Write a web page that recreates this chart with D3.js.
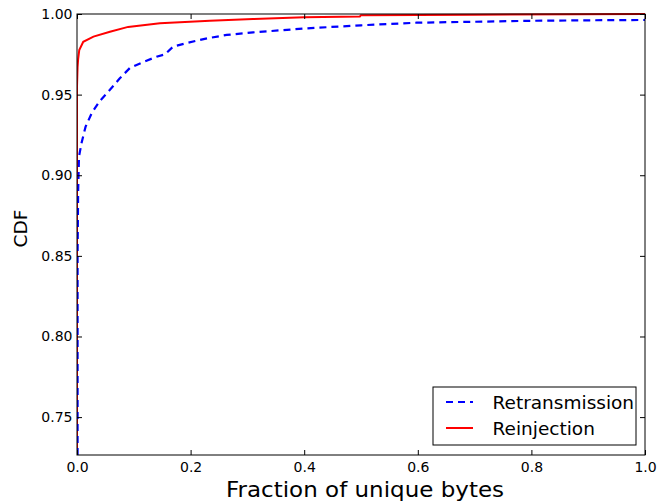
<!DOCTYPE html>
<html><head><meta charset="utf-8">
<script src="https://cdn.jsdelivr.net/npm/d3@7"></script>
<style>body{margin:0;background:#fff;} text{font-family:"DejaVu Sans",sans-serif;}</style>
</head><body><svg id="c" width="660" height="501"></svg>
<script>
const retransX = [0.001,0.001,0.002,0.0035,0.008,0.015,0.026,0.04,0.058,0.075,0.093,0.115,0.14,0.155,0.169,0.193,0.23,0.2635,0.31,0.4,0.5,0.598,0.7,0.803,0.9,1.0];
const retransY = [0.7265,0.85,0.89,0.9115,0.92,0.93,0.9386,0.946,0.953,0.960,0.9665,0.970,0.9735,0.975,0.9797,0.982,0.985,0.987,0.9886,0.991,0.993,0.9946,0.9952,0.9958,0.9961,0.9963];
const reinjX = [0,0,0.001,0.002,0.004,0.011,0.029,0.058,0.09,0.146,0.234,0.31,0.4,0.498,0.5,0.7,1.0];
const reinjY = [0.7265,0.955,0.967,0.972,0.9777,0.9828,0.986,0.989,0.992,0.9942,0.9958,0.9969,0.998,0.9985,0.9993,0.9996,1.0];
const xTicks = [0,0.2,0.4,0.6,0.8,1.0];
const yTicks = [0.75,0.80,0.85,0.90,0.95,1.00];
const seriesNames = ["Retransmission","Reinjection"];

const L=77,R=645,T=14,B=455;
const svg=d3.select("#c");
const x=d3.scaleLinear().domain([0,1]).range([L,R]);
const y=d3.scaleLinear().domain([0.7265,1.0]).range([B,T]);

svg.append("defs").append("clipPath").attr("id","clip").append("rect")
  .attr("x",L).attr("y",T-1).attr("width",R-L).attr("height",B-T+1);

const line=d3.line().x(d=>x(d[0])).y(d=>y(d[1]));
const g=svg.append("g").attr("clip-path","url(#clip)");
g.append("path").datum(reinjX.map((v,i)=>[v,reinjY[i]]))
  .attr("d",line).attr("fill","none").attr("stroke","#ff0000").attr("stroke-width",2);
g.append("path").datum(retransX.map((v,i)=>[v,retransY[i]]))
  .attr("d",line).attr("fill","none").attr("stroke","#0000ff").attr("stroke-width",2.2)
  .attr("stroke-dasharray","7,5");

// axes (inward ticks)
const tl=5;
const xb=d3.axisBottom(x).tickValues(xTicks).tickFormat(d3.format(".1f")).tickSizeInner(-tl).tickSizeOuter(0).tickPadding(7);
const xt=d3.axisTop(x).tickValues(xTicks).tickFormat("").tickSizeInner(-tl).tickSizeOuter(0);
const yl=d3.axisLeft(y).tickValues(yTicks).tickFormat(d3.format(".2f")).tickSizeInner(-tl).tickSizeOuter(0).tickPadding(4.5);
const yr=d3.axisRight(y).tickValues(yTicks).tickFormat("").tickSizeInner(-tl).tickSizeOuter(0);
function style(s){s.select(".domain").remove();s.selectAll("line").attr("stroke","#000");s.selectAll("text").attr("font-size",14).attr("fill","#000").style("font-family","DejaVu Sans");}
svg.append("g").attr("transform",`translate(0,${B})`).call(xb).call(style);
svg.append("g").attr("transform",`translate(0,${T})`).call(xt).call(style);
svg.append("g").attr("transform",`translate(${L},0)`).call(yl).call(style);
svg.append("g").attr("transform",`translate(${R},0)`).call(yr).call(style);
svg.append("rect").attr("x",L).attr("y",T).attr("width",R-L).attr("height",B-T)
  .attr("fill","none").attr("stroke","#000").attr("stroke-width",1);

svg.append("text").attr("transform",`translate(365,497) scale(1,0.9)`).attr("text-anchor","middle")
  .attr("font-size",23).text("Fraction of unique bytes");
svg.append("text").attr("transform",`translate(27,228.5) rotate(-90)`).attr("text-anchor","middle")
  .attr("font-size",18.5).text("CDF");

// legend
const lg=svg.append("g");
lg.append("rect").attr("x",433).attr("y",387).attr("width",203).attr("height",58)
  .attr("fill","#fff").attr("stroke","#000").attr("stroke-width",1);
const cols=["#0000ff","#ff0000"], dash=["7,5",null];
seriesNames.forEach((n,i)=>{
  const yy=402+i*26;
  lg.append("line").attr("x1",446).attr("x2",473).attr("y1",yy).attr("y2",yy)
    .attr("stroke",cols[i]).attr("stroke-width",2).attr("stroke-dasharray",dash[i]);
  lg.append("text").attr("x",492.5).attr("y",yy+6.5).attr("font-size",18.5).text(n);
});
</script></body></html>
